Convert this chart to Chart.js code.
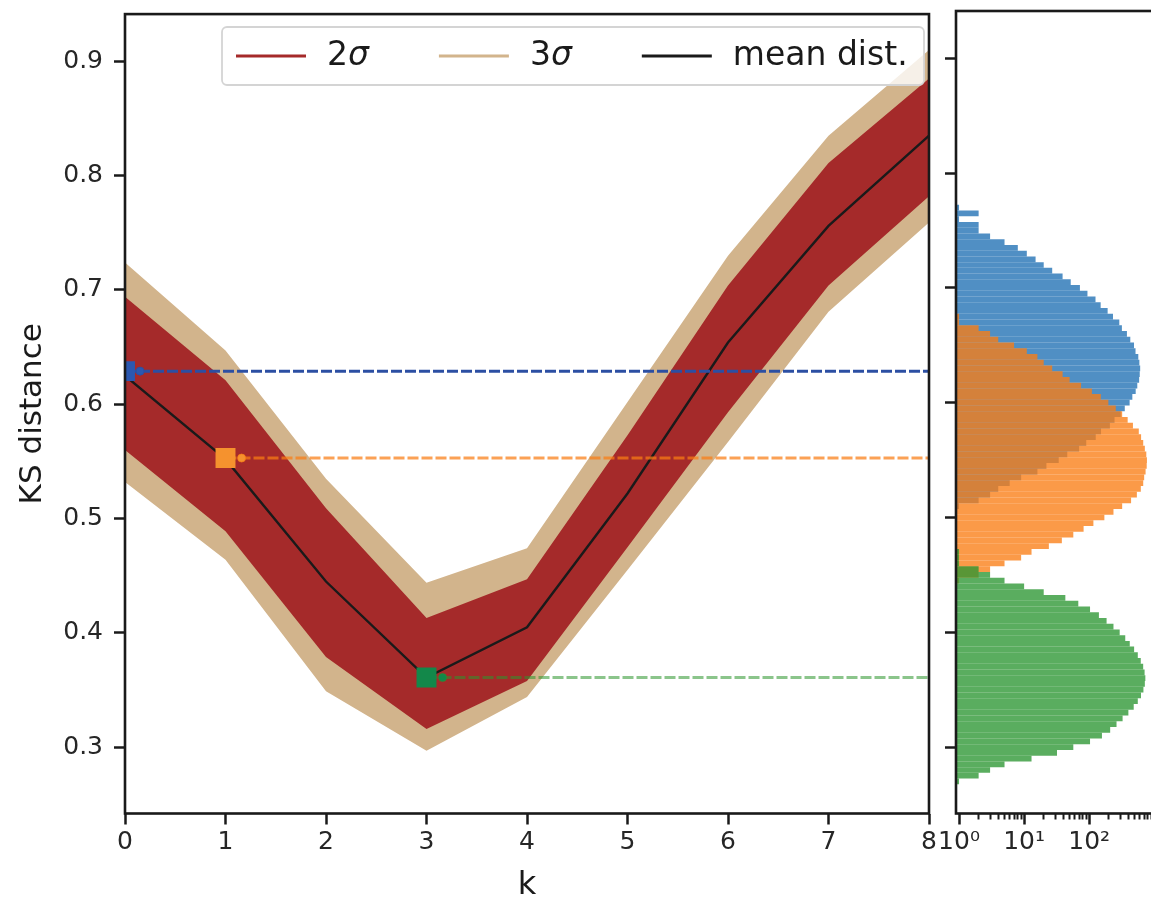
<!DOCTYPE html>
<html><head><meta charset="utf-8">
<script src="https://cdn.jsdelivr.net/npm/chart.js@4/dist/chart.umd.min.js"></script>
<style>
html,body{margin:0;padding:0;background:#fff;overflow:hidden;width:1151px;height:898px;}
#c1{position:absolute;left:0;top:0;}
#c2{position:absolute;left:930px;top:0;}
</style></head><body>
<canvas id="c1" width="1151" height="898"></canvas>
<canvas id="c2" width="260" height="898"></canvas>
<script>
// ---------------- data ----------------
const kValues    = [0, 1, 2, 3, 4, 5, 6, 7, 8];
const meanDist   = [0.625, 0.552, 0.445, 0.361, 0.405, 0.522, 0.654, 0.756, 0.835];
const band2Upper = [0.694, 0.621, 0.509, 0.413, 0.447, 0.573, 0.704, 0.811, 0.885];
const band2Lower = [0.560, 0.489, 0.379, 0.316, 0.358, 0.475, 0.593, 0.704, 0.782];
const band3Upper = [0.724, 0.647, 0.535, 0.444, 0.474, 0.602, 0.730, 0.835, 0.910];
const band3Lower = [0.532, 0.464, 0.349, 0.297, 0.344, 0.455, 0.567, 0.681, 0.759];

const selectedK     = [0, 1, 3];
const selectedDist  = [0.629, 0.553, 0.361];
const selectedTickK = [0.15, 1.16, 3.16];

const yTickValues   = [0.3, 0.4, 0.5, 0.6, 0.7, 0.8, 0.9];
const logTickValues = [1, 10, 100];
const logTickLabels = ['10\u2070', '10\u00b9', '10\u00b2'];
const logMinorTicks = [2,3,4,5,6,7,8,9,20,30,40,50,60,70,80,90,200,300,400,500,600,700,800,900];

const legendLabels = ['2\u03c3', '3\u03c3', 'mean dist.'];

const blueBins = [0.770,0.765,0.760,0.755,0.750,0.745,0.740,0.735,0.730,0.725,0.720,0.715,0.710,0.705,0.700,0.695,0.690,0.685,0.680,0.675,0.670,0.665,0.660,0.655,0.650,0.645,0.640,0.635,0.630,0.625,0.620,0.615,0.610,0.605,0.600,0.595,0.590,0.585,0.580,0.575,0.570,0.565,0.560,0.555,0.550,0.545,0.540,0.535,0.530,0.525,0.520,0.515,0.510];
const blueCounts = [1,2,1,2,2,3,5,8,11,15,20,27,39,52,72,94,125,150,192,232,290,318,380,428,488,515,568,590,607,598,585,548,518,460,418,352,305,245,208,152,126,90,70,46,34,22,16,9,6,4,3,2,1];

const orangeBins = [0.675,0.670,0.665,0.660,0.655,0.650,0.645,0.640,0.635,0.630,0.625,0.620,0.615,0.610,0.605,0.600,0.595,0.590,0.585,0.580,0.575,0.570,0.565,0.560,0.555,0.550,0.545,0.540,0.535,0.530,0.525,0.520,0.515,0.510,0.505,0.500,0.495,0.490,0.485,0.480,0.475,0.470,0.465,0.460,0.455,0.450,0.445];
const orangeCounts = [1,1,2,3,4,7,11,16,20,27,39,50,75,110,151,197,256,321,390,470,578,627,676,716,754,771,765,735,699,676,621,540,440,321,236,171,116,82,57,38,24,13,9,5,3,2,1];

const greenBins = [0.470,0.465,0.460,0.455,0.450,0.445,0.440,0.435,0.430,0.425,0.420,0.415,0.410,0.405,0.400,0.395,0.390,0.385,0.380,0.375,0.370,0.365,0.360,0.355,0.350,0.345,0.340,0.335,0.330,0.325,0.320,0.315,0.310,0.305,0.300,0.295,0.290,0.285,0.280,0.275,0.270];
const greenCounts = [1,1,1,2,3,5,10,20,43,68,103,141,185,236,294,358,420,490,558,620,675,710,729,716,681,625,558,483,400,326,263,210,157,103,57,32,13,5,3,2,1];

// ---------------- styles ----------------
const FONT = "'DejaVu Sans', sans-serif";
const INK = '#1a1a1a';
const TICK_INK = '#262626';
const TAN = '#d2b48c', BROWN = '#a52a2a';
const Y_MIN = 0.2421, Y_MAX = 0.9413;
const X_LOG_MIN = 0.898, X_LOG_MAX = 990;
const selSquareColors = ['#2b58b0', '#f5922e', '#13884a'];
const selLineColors = ['#2c4fa3', 'rgba(250,125,20,0.72)', 'rgba(44,150,44,0.55)'];
const legendColors = [BROWN, TAN, INK];

const pts = (xs, ys) => xs.map((x, i) => ({x: x, y: ys[i]}));
const setTicks = values => s => { s.ticks = values.map(v => ({value: v})); };

const framePlugin = {
  id: 'frame',
  afterDatasetsDraw(chart, args, opts) {
    const {ctx, chartArea: a} = chart;
    ctx.save();
    ctx.strokeStyle = opts.color; ctx.lineWidth = opts.width;
    ctx.strokeRect(a.left, a.top, a.right - a.left, a.bottom - a.top);
    ctx.restore();
  }
};

function drawLabel(ctx, text, x, y, size) {
  const m = text.match(/^(.*?)(\u03c3)$/);
  if (m) {
    ctx.font = size + 'px ' + FONT;
    ctx.fillText(m[1], x, y);
    const w = ctx.measureText(m[1]).width;
    ctx.font = 'italic ' + size + 'px ' + FONT;
    ctx.fillText(m[2], x + w, y);
    return w + ctx.measureText(m[2]).width;
  }
  ctx.font = size + 'px ' + FONT;
  ctx.fillText(text, x, y);
  return ctx.measureText(text).width;
}

const boxLegendPlugin = {
  id: 'boxLegend',
  afterDraw(chart, args, o) {
    const ctx = chart.ctx;
    ctx.save();
    ctx.beginPath();
    ctx.roundRect(o.x, o.y, o.w, o.h, 5);
    ctx.fillStyle = 'rgba(255,255,255,0.8)';
    ctx.fill();
    ctx.strokeStyle = '#d4d4d4'; ctx.lineWidth = 1.8;
    ctx.stroke();
    let x = o.x + o.padLeft;
    const ly = o.y + o.lineY;
    ctx.textBaseline = 'alphabetic';
    legendLabels.forEach((lab, i) => {
      ctx.beginPath();
      ctx.strokeStyle = legendColors[i]; ctx.lineWidth = 3;
      ctx.moveTo(x, ly); ctx.lineTo(x + o.handle, ly); ctx.stroke();
      x += o.handle + o.gap;
      ctx.fillStyle = INK;
      const w = drawLabel(ctx, lab, x, o.y + o.baseY, o.size);
      x += w + o.colGap;
    });
    ctx.restore();
  }
};

const tickFont = {family: FONT, size: 25};

// ---------------- main chart ----------------
const lineBase = {type: 'line', pointRadius: 0, borderWidth: 0, borderColor: 'transparent', tension: 0};
const mainDatasets = [
  Object.assign({}, lineBase, {label: '3σ upper', data: pts(kValues, band3Upper), fill: '+1', backgroundColor: TAN, order: 10}),
  Object.assign({}, lineBase, {label: '3σ lower', data: pts(kValues, band3Lower), fill: false, order: 11}),
  Object.assign({}, lineBase, {label: '2σ upper', data: pts(kValues, band2Upper), fill: '+1', backgroundColor: BROWN, order: 8}),
  Object.assign({}, lineBase, {label: '2σ lower', data: pts(kValues, band2Lower), fill: false, order: 9}),
  Object.assign({}, lineBase, {label: 'mean dist.', data: pts(kValues, meanDist), borderColor: INK, borderWidth: 2.4, fill: false, order: 5})
];
selectedK.forEach((k, i) => {
  mainDatasets.push({type: 'line', label: 'sel line ' + i,
    data: [{x: k, y: selectedDist[i]}, {x: kValues[kValues.length - 1], y: selectedDist[i]}],
    borderColor: selLineColors[i], borderWidth: 3, borderDash: [11, 3], pointRadius: 0, fill: false, order: 4, clip: 0});
  mainDatasets.push({type: 'line', label: 'sel tick ' + i, data: [{x: selectedTickK[i], y: selectedDist[i]}],
    showLine: false, pointStyle: 'circle', pointRadius: 4, pointBackgroundColor: selSquareColors[i],
    pointBorderColor: selLineColors[i], pointBorderWidth: 1, order: 3, clip: 0});
});
mainDatasets.push({type: 'line', label: 'selected', data: pts(selectedK, selectedDist), showLine: false,
  pointStyle: 'rect', pointRadius: 14.1, pointBorderWidth: 0, pointBackgroundColor: selSquareColors, order: 1, clip: 0});

new Chart(document.getElementById('c1'), {
  type: 'line',
  data: {datasets: mainDatasets},
  options: {
    responsive: false, animation: false, events: [],
    layout: {padding: {left: 0, top: 11, right: 222, bottom: 0}},
    plugins: {
      legend: {display: false}, tooltip: {enabled: false},
      frame: {color: INK, width: 2.6},
      boxLegend: {x: 222, y: 27, w: 702, h: 58, padLeft: 14, handle: 70, gap: 21, colGap: 70, lineY: 29, baseY: 38, size: 33}
    },
    scales: {
      x: {
        type: 'linear', min: 0, max: 8,
        afterBuildTicks: setTicks(kValues),
        afterFit: s => { s.height = 84.5; s.paddingLeft = 0; s.paddingRight = 0; },
        ticks: {font: tickFont, color: TICK_INK, padding: 3, autoSkip: false, maxRotation: 0, callback: v => String(v)},
        grid: {drawOnChartArea: false, drawTicks: true, tickLength: 11, tickWidth: 2.5, tickColor: INK},
        border: {display: false},
        title: {display: true, text: 'k', color: INK, font: {family: FONT, size: 32, lineHeight: 0.75}, padding: 0}
      },
      y: {
        type: 'linear', min: Y_MIN, max: Y_MAX,
        afterBuildTicks: setTicks(yTickValues),
        afterFit: s => { s.width = 125; s.paddingTop = 0; s.paddingBottom = 0; },
        ticks: {font: tickFont, color: TICK_INK, padding: 11, autoSkip: false, callback: v => v.toFixed(1)},
        grid: {drawOnChartArea: false, drawTicks: true, tickLength: 11, tickWidth: 2.5, tickColor: INK},
        border: {display: false},
        title: {display: true, text: 'KS distance', color: INK, font: {family: FONT, size: 31}, padding: {top: 14, bottom: 0}}
      }
    }
  },
  plugins: [framePlugin, boxLegendPlugin]
});

// ---------------- histogram panel ----------------
const histDatasets = [
  {label: 'hist blue', data: pts(blueCounts, blueBins), backgroundColor: 'rgba(31,112,180,0.78)', order: 3},
  {label: 'hist orange', data: pts(orangeCounts, orangeBins), backgroundColor: 'rgba(250,125,20,0.78)', order: 2},
  {label: 'hist green', data: pts(greenCounts, greenBins), backgroundColor: 'rgba(44,150,50,0.78)', order: 1}
];

new Chart(document.getElementById('c2'), {
  type: 'bar',
  data: {datasets: histDatasets},
  options: {
    indexAxis: 'y', responsive: false, animation: false, events: [],
    layout: {padding: {left: 0, top: 11, right: 36, bottom: 0}},
    datasets: {bar: {grouped: false, barPercentage: 1, categoryPercentage: 1, borderWidth: 0, inflateAmount: 0}},
    plugins: {legend: {display: false}, tooltip: {enabled: false}, frame: {color: INK, width: 2.6}},
    scales: {
      y: {
        type: 'linear', position: 'left', min: Y_MIN, max: Y_MAX, offset: false,
        afterBuildTicks: setTicks(yTickValues),
        afterFit: s => { s.width = 26; s.paddingTop = 0; s.paddingBottom = 0; },
        ticks: {display: false},
        grid: {offset: false, drawOnChartArea: false, drawTicks: true, tickLength: 11, tickWidth: 2.5, tickColor: INK},
        border: {display: false}
      },
      x: {
        type: 'logarithmic', position: 'bottom', weight: 0, min: X_LOG_MIN, max: X_LOG_MAX, offset: false,
        afterBuildTicks: setTicks(logMinorTicks),
        afterFit: s => { s.height = 0; s.paddingLeft = 0; s.paddingRight = 0; },
        ticks: {display: false},
        grid: {offset: false, drawOnChartArea: false, drawTicks: true, tickLength: 6, tickWidth: 2, tickColor: INK},
        border: {display: false}
      },
      x2: {
        type: 'logarithmic', position: 'bottom', weight: 1, min: X_LOG_MIN, max: X_LOG_MAX, offset: false,
        afterBuildTicks: setTicks(logTickValues),
        afterFit: s => { s.height = 84.5; s.paddingLeft = 0; s.paddingRight = 0; },
        ticks: {font: tickFont, color: TICK_INK, padding: 3, autoSkip: false, maxRotation: 0,
                callback: (v, i) => logTickLabels[i]},
        grid: {offset: false, drawOnChartArea: false, drawTicks: true, tickLength: 11, tickWidth: 2.5, tickColor: INK},
        border: {display: false}
      }
    }
  },
  plugins: [framePlugin]
});
</script>
</body></html>
